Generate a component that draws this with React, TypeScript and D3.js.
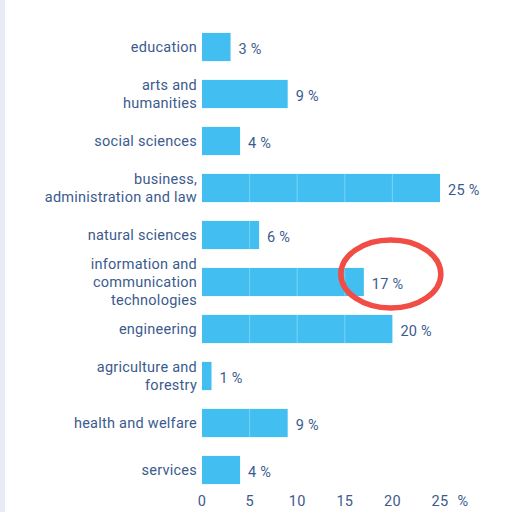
import React, { useEffect, useRef } from "react";
import * as d3 from "d3";

const categories: string[][] = [
  ["education"],
  ["arts and", "humanities"],
  ["social sciences"],
  ["business,", "administration and law"],
  ["natural sciences"],
  ["information and", "communication", "technologies"],
  ["engineering"],
  ["agriculture and", "forestry"],
  ["health and welfare"],
  ["services"],
];
const shares = [3, 9, 4, 25, 6, 17, 20, 1, 9, 4];
// bars that show the faint segment lines in the original
const segmented = [false, false, false, true, true, true, true, false, true, false];
const ticks = [0, 5, 10, 15, 20, 25];
const highlighted = 5;

const App: React.FC = () => {
  const svgRef = useRef<SVGSVGElement | null>(null);

  useEffect(() => {
    if (!svgRef.current) return;
    const svg = d3.select(svgRef.current);
    svg.selectAll("*").remove();

    const width = 507;
    const height = 512;
    const textColor = "#3b5b8e";
    const barColor = "#42bff0";
    const font = "Roboto, sans-serif";
    const fontSize = 14.5;
    const spacing = 0.25;

    svg.attr("width", width).attr("height", height);

    svg.append("rect").attr("width", width).attr("height", height).attr("fill", "#fff");
    svg.append("rect").attr("width", 5).attr("height", height).attr("fill", "#e6ebf5");

    const x = d3.scaleLinear().domain([0, 25]).range([202, 440]);
    const y = d3
      .scaleBand<number>()
      .domain(d3.range(shares.length))
      .range([23.5, 493.5])
      .paddingInner(0.4)
      .paddingOuter(0.2);

    const rows = svg
      .selectAll("g.row")
      .data(shares)
      .enter()
      .append("g")
      .attr("class", "row");

    rows
      .append("rect")
      .attr("x", x(0))
      .attr("y", (_, i) => y(i)!)
      .attr("width", (d) => x(d) - x(0))
      .attr("height", y.bandwidth())
      .attr("fill", barColor);

    rows.each(function (d, i) {
      if (!segmented[i]) return;
      const g = d3.select(this);
      ticks
        .filter((t) => t > 0 && t < d)
        .forEach((t) => {
          g.append("line")
            .attr("x1", x(t))
            .attr("x2", x(t))
            .attr("y1", y(i)!)
            .attr("y2", y(i)! + y.bandwidth())
            .attr("stroke", "#fff")
            .attr("stroke-opacity", 0.3)
            .attr("stroke-width", 1);
        });
    });

    const lineH = 18;
    rows
      .append("text")
      .attr("text-anchor", "end")
      .attr("font-family", font)
      .attr("font-size", fontSize)
      .attr("letter-spacing", spacing)
      .attr("fill", textColor)
      .each(function (_, i) {
        const lines = categories[i];
        const cy = y(i)! + y.bandwidth() / 2;
        const start = cy - ((lines.length - 1) * lineH) / 2;
        lines.forEach((l, k) => {
          d3.select(this)
            .append("tspan")
            .attr("x", 197)
            .attr("y", start + k * lineH)
            .attr("dy", "0.35em")
            .text(l);
        });
      });

    rows
      .append("text")
      .attr("x", (d) => x(d) + 8)
      .attr("y", (_, i) => y(i)! + y.bandwidth() / 2 + 2)
      .attr("dy", "0.35em")
      .attr("font-family", font)
      .attr("font-size", fontSize)
      .attr("letter-spacing", spacing)
      .attr("fill", textColor)
      .text((d) => `${d} %`);

    const axis = svg
      .append("g")
      .attr("font-family", font)
      .attr("font-size", fontSize)
      .attr("letter-spacing", spacing)
      .attr("fill", textColor);
    axis
      .selectAll("text")
      .data(ticks)
      .enter()
      .append("text")
      .attr("x", (d) => x(d))
      .attr("y", 501)
      .attr("dy", "0.35em")
      .attr("text-anchor", "middle")
      .text((d) => d);
    axis
      .append("text")
      .attr("x", x(25) + 23)
      .attr("y", 501)
      .attr("dy", "0.35em")
      .attr("text-anchor", "middle")
      .text("%");

    // red highlight around the ICT value
    const hy = y(highlighted)! + y.bandwidth() / 2;
    svg
      .append("ellipse")
      .attr("cx", x(shares[highlighted]) + 27)
      .attr("cy", hy - 8)
      .attr("rx", 50)
      .attr("ry", 34)
      .attr("fill", "none")
      .attr("stroke", "#f14c45")
      .attr("stroke-width", 5.5);
  }, []);

  return <svg ref={svgRef} style={{ position: "absolute", left: 0, top: 0, display: "block" }}></svg>;
};

export default App;
